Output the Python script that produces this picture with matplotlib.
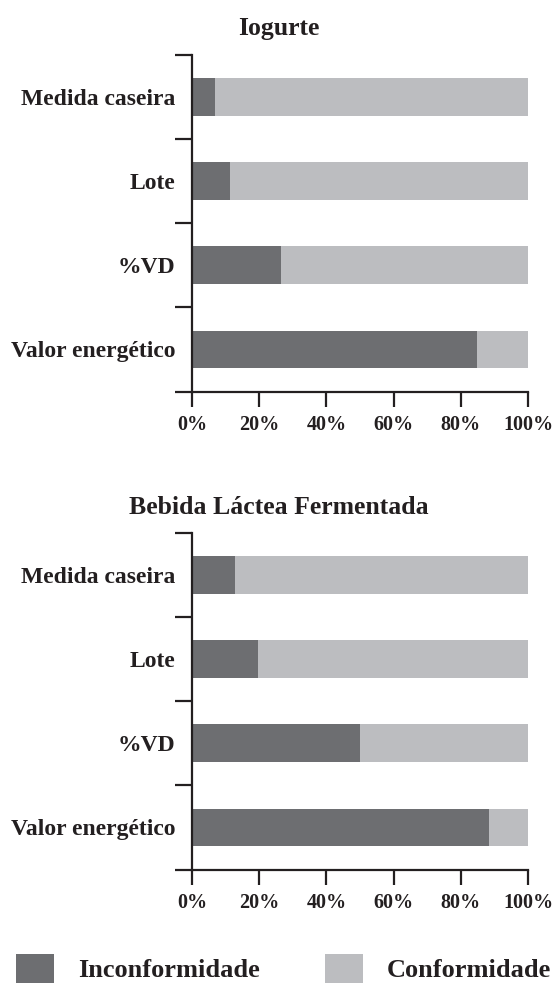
import matplotlib
matplotlib.use("Agg")
import matplotlib.pyplot as plt
from matplotlib.ticker import FixedLocator, FuncFormatter

categories = ["Valor energético", "%VD", "Lote", "Medida caseira"]
iogurte_incon = [84.7, 26.6, 11.4, 6.7]
bebida_incon = [88.3, 50.1, 19.5, 12.9]
titles = ["Iogurte", "Bebida Láctea Fermentada"]
xticks = [0, 20, 40, 60, 80, 100]
legend_labels = ["Inconformidade", "Conformidade"]

DARK = "#6d6e71"
LIGHT = "#bcbdc0"
INK = "#231f20"
FONT = "Liberation Serif"

plt.rcParams["font.family"] = [FONT, "DejaVu Serif"]
plt.rcParams["font.weight"] = "bold"

fig = plt.figure(figsize=(5.54, 9.83), dpi=100)

axes_rects = [
    [192 / 554, 1 - 391.5 / 983, 336 / 554, 336.5 / 983],
    [192 / 554, 1 - 869.5 / 983, 336 / 554, 336.5 / 983],
]
title_y = [1 - 29 / 983, 1 - 507 / 983]

handles = None
for rect, ty, title, incon in zip(axes_rects, title_y, titles, [iogurte_incon, bebida_incon]):
    ax = fig.add_axes(rect)
    y = list(range(len(categories)))
    conf = [100 - v for v in incon]
    b1 = ax.barh(y, incon, height=0.45, color=DARK, linewidth=0)
    b2 = ax.barh(y, conf, left=incon, height=0.45, color=LIGHT, linewidth=0)
    handles = [b1, b2]
    ax.set_xlim(0, 100)
    ax.set_ylim(-0.5, len(categories) - 0.5)
    for s in ["top", "right"]:
        ax.spines[s].set_visible(False)
    for s in ["left", "bottom"]:
        ax.spines[s].set_linewidth(1.6)
        ax.spines[s].set_color(INK)
    ax.set_xticks(xticks)
    ax.xaxis.set_major_formatter(FuncFormatter(lambda v, p: f"{int(v)}%"))
    ax.tick_params(axis="x", length=11, width=1.6, color=INK, labelsize=14.5,
                   labelcolor=INK, pad=6)
    ax.yaxis.set_major_locator(FixedLocator([i - 0.5 for i in range(len(categories) + 1)]))
    ax.yaxis.set_major_formatter(FuncFormatter(lambda v, p: ""))
    ax.yaxis.set_minor_locator(FixedLocator(y))
    ax.set_yticks(y, minor=True)
    ax.set_yticklabels(categories, minor=True)
    ax.tick_params(axis="y", which="major", length=12, width=1.6, color=INK)
    ax.tick_params(axis="y", which="minor", length=0, labelsize=17, labelcolor=INK, pad=12)
    fig.text(279 / 554, ty, title, ha="center", va="center", fontsize=18.5, fontweight="bold",
             color=INK)

fig.legend([handles[0], handles[1]], legend_labels, loc="lower left",
           bbox_to_anchor=(16 / 554, 0.0), ncol=2, frameon=False,
           fontsize=19, handlelength=1.44, handleheight=1.33, handletextpad=0.9,
           columnspacing=2.5, borderpad=0, borderaxespad=0,
           labelcolor=INK)

fig.savefig("out.png", dpi=100)
